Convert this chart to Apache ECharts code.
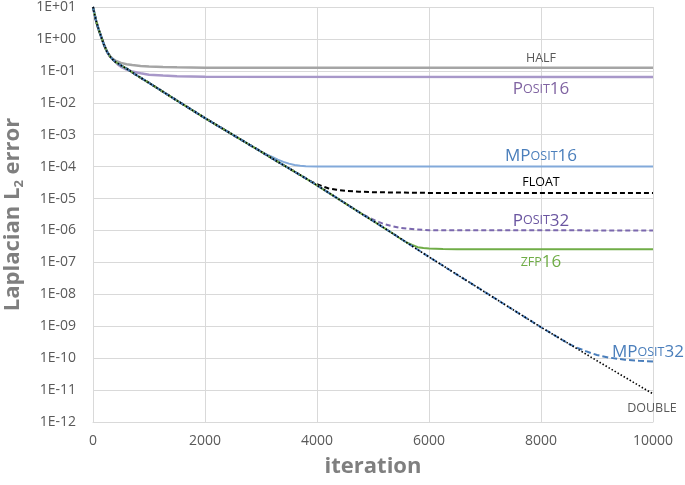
<!DOCTYPE html>
<html>
<head>
<meta charset="utf-8">
<script src="https://cdn.jsdelivr.net/npm/echarts@6/dist/echarts.min.js"></script>
<style>
  html, body { margin: 0; padding: 0; background: #fff; }
  #chart { width: 685px; height: 485px; }
</style>
</head>
<body>
<div id="chart"></div>
<script>
// 数据: 迭代次数 / 误差
var doubleIter = [0, 25, 50, 75, 100, 150, 200, 250, 300, 350, 400, 500, 600, 800, 1000, 1500, 2000, 3000, 3200, 3800, 4000, 4800, 5000, 5400, 6000, 7000, 8000, 8500, 9000, 10000];
var doubleErr  = [10, 6.3, 3.98, 2.8, 2.0, 1.12, 0.63, 0.4, 0.29, 0.23, 0.19, 0.148, 0.117, 0.069, 0.042, 0.0117, 3.3e-3, 2.95e-4, 1.8e-4, 4.3e-5, 2.6e-5, 3.3e-6, 2.0e-6, 7.1e-7, 1.48e-7, 1.17e-8, 9.3e-10, 2.8e-10, 8.3e-11, 7.6e-12];

// 各格式偏离 double 曲线之后的部分
var halfIter = [300, 350, 400, 500, 600, 700, 850, 1000, 1250, 1500, 2000, 10000];
var halfErr  = [0.29, 0.24, 0.21, 0.178, 0.162, 0.152, 0.143, 0.138, 0.133, 0.129, 0.126, 0.126];

var posit16Iter = [400, 450, 500, 600, 700, 850, 1000, 1250, 1500, 2000, 10000];
var posit16Err  = [0.19, 0.155, 0.134, 0.11, 0.095, 0.084, 0.076, 0.071, 0.068, 0.065, 0.064];

var mposit16Iter = [3000, 3100, 3200, 3300, 3400, 3500, 3600, 3700, 3800, 4000, 10000];
var mposit16Err  = [2.95e-4, 2.4e-4, 2.0e-4, 1.65e-4, 1.41e-4, 1.24e-4, 1.12e-4, 1.06e-4, 1.02e-4, 1.0e-4, 1.0e-4];

var floatIter = [3800, 3900, 4000, 4100, 4200, 4350, 4500, 4750, 5000, 6000, 10000];
var floatErr  = [4.3e-5, 3.4e-5, 2.8e-5, 2.4e-5, 2.1e-5, 1.88e-5, 1.74e-5, 1.64e-5, 1.58e-5, 1.5e-5, 1.5e-5];

var posit32Iter = [4800, 4900, 5000, 5100, 5200, 5350, 5500, 5750, 6000, 10000];
var posit32Err  = [3.3e-6, 2.7e-6, 2.2e-6, 1.85e-6, 1.58e-6, 1.35e-6, 1.2e-6, 1.08e-6, 1.02e-6, 1.0e-6];

var zfp16Iter = [5400, 5500, 5600, 5700, 5800, 5900, 6000, 6250, 6500, 10000];
var zfp16Err  = [7.1e-7, 5.4e-7, 4.2e-7, 3.5e-7, 3.0e-7, 2.8e-7, 2.7e-7, 2.63e-7, 2.6e-7, 2.6e-7];

var mposit32Iter = [8500, 8650, 8800, 8900, 9000, 9200, 9500, 9750, 10000];
var mposit32Err  = [2.8e-10, 2.1e-10, 1.66e-10, 1.43e-10, 1.26e-10, 1.05e-10, 8.9e-11, 8.3e-11, 7.9e-11];

var xTicks = [0, 2000, 4000, 6000, 8000, 10000];

function pairs(xs, ys) {
    return xs.map(function (x, i) { return [x, ys[i]]; });
}
// double 曲线的前段 + 自己的后段
function withHead(xs, ys) {
    var head = pairs(doubleIter, doubleErr).filter(function (p) { return p[0] < xs[0]; });
    return head.concat(pairs(xs, ys));
}

var FONT = '"Open Sans", sans-serif';

function tag(coord, text, color, rich) {
    return {
        symbol: 'circle',
        symbolSize: 1,
        silent: true,
        itemStyle: { color: 'rgba(0,0,0,0)' },
        data: [{ coord: coord }],
        label: {
            show: true, position: 'inside', formatter: text,
            color: color, fontFamily: FONT, fontSize: 12.5, rich: rich || {}
        }
    };
}
function caps(color) {
    return {
        b: { fontSize: 17, color: color, fontFamily: FONT },
        s: { fontSize: 12.5, color: color, fontFamily: FONT }
    };
}

function line(name, data, color, width, type, label) {
    return {
        name: name,
        type: 'line',
        data: data,
        showSymbol: false,
        smooth: false,
        lineStyle: { color: color, width: width, type: type },
        itemStyle: { color: color },
        markPoint: label,
        animation: false
    };
}

var myChart = echarts.init(document.getElementById('chart'));

var option = {
    backgroundColor: '#fff',
    grid: { left: 93, right: 32, top: 7, bottom: 63, outerBoundsMode: 'none', containLabel: false },
    xAxis: {
        type: 'value',
        min: 0, max: 10000, interval: 2000,
        name: 'iteration',
        nameLocation: 'middle',
        nameGap: 34,
        nameTextStyle: { fontFamily: FONT, fontSize: 22, fontWeight: 'bold', color: '#7f7f7f' },
        axisLine: { lineStyle: { color: '#d9d9d9' } },
        axisTick: { show: false },
        axisLabel: {
            margin: 12, color: '#595959', fontFamily: FONT, fontSize: 14,
            formatter: function (v) { return xTicks.indexOf(v) >= 0 ? String(v) : ''; }
        },
        splitLine: { show: true, lineStyle: { color: '#d9d9d9' } }
    },
    yAxis: {
        type: 'log',
        logBase: 10,
        min: 1e-12, max: 10,
        interval: 1,
        name: '{n|Laplacian L}{u|2}{n| error}',
        nameLocation: 'middle',
        nameGap: 67,
        nameTextStyle: {
            rich: {
                n: { fontFamily: FONT, fontSize: 22, fontWeight: 'bold', color: '#7f7f7f' },
                u: { fontFamily: FONT, fontSize: 13, fontWeight: 'bold', color: '#7f7f7f', padding: [12, 0, 0, 0] }
            }
        },
        axisLine: { show: true, lineStyle: { color: '#d9d9d9' } },
        axisTick: { show: false },
        axisLabel: {
            margin: 17, color: '#595959', fontFamily: FONT, fontSize: 14,
            hideOverlap: false,
            interval: 0,
            formatter: function (v) {
                var e = Math.round(Math.log10(v));
                var a = Math.abs(e);
                return '1E' + (e < 0 ? '-' : '+') + (a < 10 ? '0' + a : a);
            }
        },
        splitLine: { show: true, lineStyle: { color: '#d9d9d9' } }
    },
    series: [
        line('HALF', withHead(halfIter, halfErr), '#a5a5a5', 2.5, 'solid',
            tag([8000, 0.25], 'HALF', '#595959')),
        line('Posit16', withHead(posit16Iter, posit16Err), '#a898c9', 2.5, 'solid',
            tag([8000, 0.027], '{b|P}{s|OSIT}{b|16}', '#8064a2', caps('#8064a2'))),
        line('MPosit16', withHead(mposit16Iter, mposit16Err), '#82a9da', 2, 'solid',
            tag([8000, 2.1e-4], '{b|MP}{s|OSIT}{b|16}', '#4a7ebb', caps('#4a7ebb'))),
        line('FLOAT', withHead(floatIter, floatErr), '#000000', 2, [5, 3],
            tag([8000, 3.1e-5], 'FLOAT', '#000000')),
        line('Posit32', withHead(posit32Iter, posit32Err), '#7b68ae', 2, [5, 3],
            tag([8000, 2.0e-6], '{b|P}{s|OSIT}{b|32}', '#6a55a0', caps('#6a55a0'))),
        line('zfp16', withHead(zfp16Iter, zfp16Err), '#70ad47', 2, 'solid',
            tag([8000, 1.0e-7], '{s|ZFP}{b|16}', '#70ad47', caps('#70ad47'))),
        line('MPosit32', withHead(mposit32Iter, mposit32Err), '#4a7ebb', 2, [6, 3],
            tag([9910, 1.55e-10], '{b|MP}{s|OSIT}{b|32}', '#4a7ebb', caps('#4a7ebb'))),
        line('DOUBLE', pairs(doubleIter, doubleErr), '#000000', 1.6, [1.5, 2],
            tag([9980, 2.75e-12], 'DOUBLE', '#595959'))
    ]
};

myChart.setOption(option);
</script>
</body>
</html>
